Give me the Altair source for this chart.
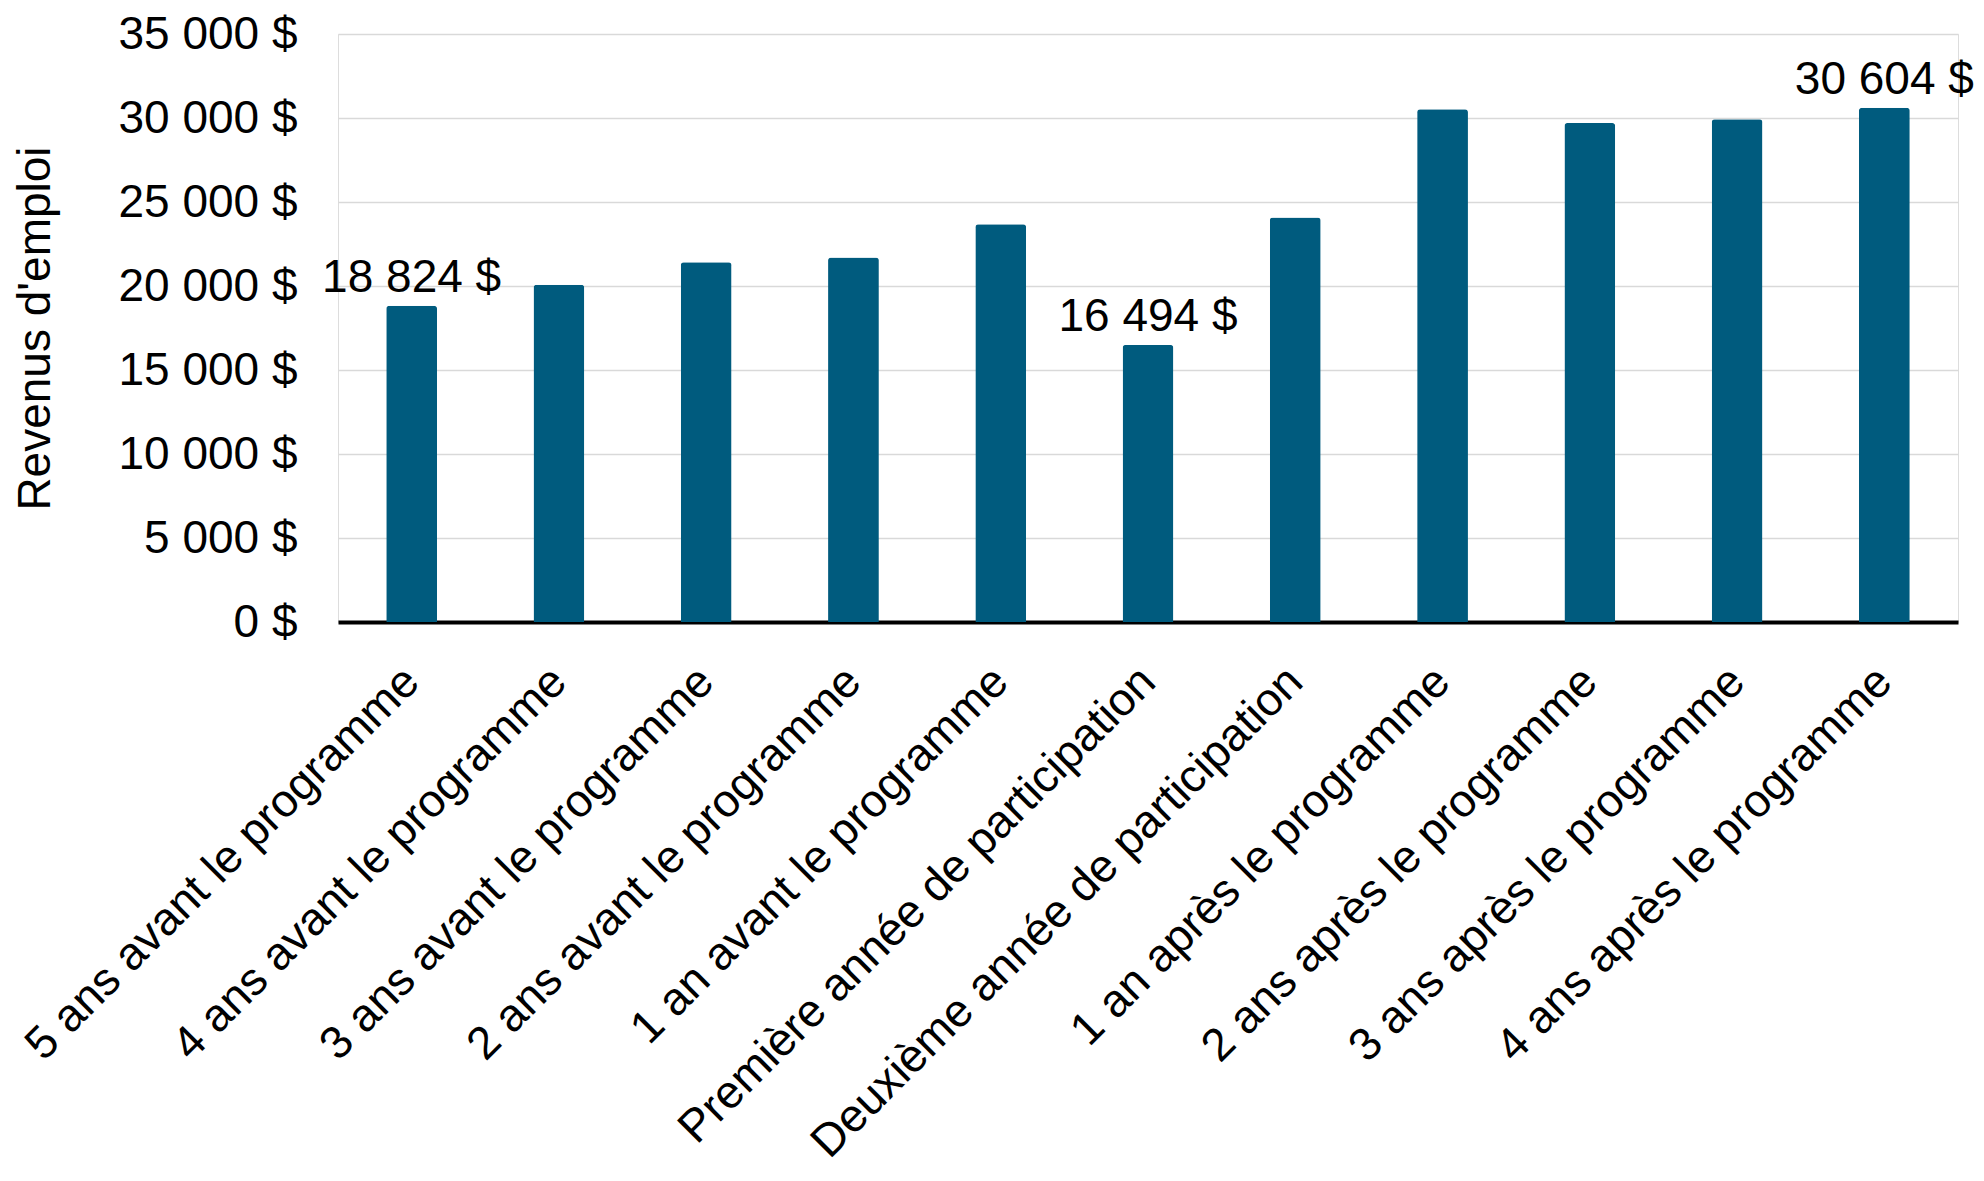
import altair as alt
import pandas as pd

categories = [
    "5 ans avant le programme",
    "4 ans avant le programme",
    "3 ans avant le programme",
    "2 ans avant le programme",
    "1 an avant le programme",
    "Première année de participation",
    "Deuxième année de participation",
    "1 an après le programme",
    "2 ans après le programme",
    "3 ans après le programme",
    "4 ans après le programme",
]
values = [18824, 20080, 21420, 21700, 23680, 16494, 24080, 30520, 29700, 29930, 30604]
labels = ["18 824 $", "", "", "", "", "16 494 $", "", "", "", "", "30 604 $"]
y_ticks = [0, 5000, 10000, 15000, 20000, 25000, 30000, 35000]

df = pd.DataFrame({"cat": categories, "val": values, "lab": labels})

FONT = "Liberation Sans"
FS = 46
BAR_COLOR = "#005B7E"

x_enc = alt.X(
    "cat:N",
    sort=categories,
    title=None,
    scale=alt.Scale(paddingInner=0.655, paddingOuter=0.3275),
    axis=alt.Axis(
        labelAngle=-45,
        labelAlign="right",
        labelBaseline="middle",
        labelPadding=52,
        labelFont=FONT,
        labelFontSize=FS,
        labelColor="#000000",
        labelLimit=1000,
        ticks=False,
        domain=True,
        domainColor="#000000",
        domainWidth=4,
        grid=False,
    ),
)

y_enc = alt.Y(
    "val:Q",
    title="Revenus d'emploi",
    scale=alt.Scale(domain=[0, 35000], nice=False),
    axis=alt.Axis(
        values=y_ticks,
        labelExpr="replace(format(datum.value, ','), ',', ' ') + ' $'",
        labelFont=FONT,
        labelFontSize=FS,
        labelColor="#000000",
        labelPadding=41,
        ticks=False,
        domain=False,
        grid=True,
        gridColor="#d9d9d9",
        gridWidth=1.3,
        titleFont=FONT,
        titleFontSize=FS,
        titleFontWeight="normal",
        titleColor="#000000",
        titleAngle=-90,
        titleAlign="center",
        titleBaseline="middle",
        titleX=-303,
        titleY=294,
    ),
)

bars = alt.Chart(df).mark_bar(
    color=BAR_COLOR, cornerRadiusTopLeft=3, cornerRadiusTopRight=3
).encode(x=x_enc, y=y_enc)

text = alt.Chart(df).mark_text(
    font=FONT, fontSize=FS, color="#000000", baseline="alphabetic", dy=-14
).encode(
    x=alt.X("cat:N", sort=categories),
    y=alt.Y("val:Q"),
    text="lab:N",
)

chart = (
    alt.layer(bars, text)
    .properties(
        width=1620,
        height=588,
        autosize=alt.AutoSizeParams(type="none"),
        padding={"left": 330, "top": 26, "right": 16, "bottom": 545},
    )
    .configure_view(stroke=None)
    .configure(background="#ffffff")
)

chart.save("out.html", embed_options={"renderer": "svg", "actions": False})
